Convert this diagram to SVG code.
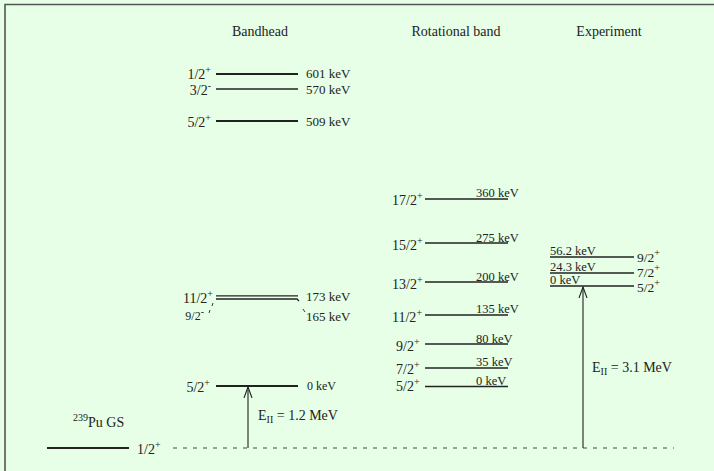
<svg xmlns="http://www.w3.org/2000/svg" width="714" height="471" viewBox="0 0 714 471">
<style>
text{font-family:"Liberation Serif","Times New Roman",serif;fill:#222;font-size:12.5px}
.t{font-size:14px}
.j{font-size:14px}
.jx{font-size:13.5px}
.e{font-size:12.5px}
.eb{font-size:13px}
.s{font-size:12px}
.sup{font-size:10px}
.lv{stroke:#222;stroke-width:1.8;fill:none}
.lt{stroke:#222;stroke-width:1.3;fill:none}
.ar{stroke:#222;stroke-width:1.1;fill:none}
</style>
<defs>
<marker id="ah" viewBox="0 0 12 10" refX="11" refY="5" markerWidth="12" markerHeight="10" markerUnits="userSpaceOnUse" orient="auto">
<path d="M0,1 L11,5 L0,9" fill="none" stroke="#222" stroke-width="1.1"/>
</marker>
</defs>
<rect x="0" y="0" width="714" height="471" fill="#e6ffe6"/>
<path d="M5,471 V4.5 H714" fill="none" stroke="#555" stroke-width="1.6"/>

<g id="titles">
<text class="t" x="260" y="36" text-anchor="middle">Bandhead</text>
<text class="t" x="456" y="36" text-anchor="middle">Rotational band</text>
<text class="t" x="609" y="36" text-anchor="middle">Experiment</text>
</g>

<g id="gs">
<line class="lv" x1="47" y1="448" x2="129" y2="448"/>
<text class="j" x="137" y="454">1/2<tspan class="sup" dy="-6">+</tspan></text>
<text class="j" x="73" y="427"><tspan class="sup" dy="-6">239</tspan><tspan dy="6">Pu GS</tspan></text>
</g>

<g id="bandhead">
<g id="bh601"><line class="lv" x1="216" y1="74" x2="298" y2="74"/>
<text class="j" x="211" y="79" text-anchor="end">1/2<tspan class="sup" dy="-6">+</tspan></text>
<text class="eb" x="306" y="78">601 keV</text></g>
<g id="bh570"><line class="lt" x1="216" y1="89" x2="298" y2="89"/>
<text class="j" x="211" y="95" text-anchor="end">3/2<tspan class="sup" dy="-6">-</tspan></text>
<text class="eb" x="306" y="94">570 keV</text></g>
<g id="bh509"><line class="lv" x1="216" y1="121" x2="298" y2="121"/>
<text class="j" x="211" y="127" text-anchor="end">5/2<tspan class="sup" dy="-6">+</tspan></text>
<text class="eb" x="306" y="126">509 keV</text></g>
<g id="bh173"><line class="lt" x1="216" y1="295.8" x2="298" y2="295.8"/>
<path class="lt" d="M216,299 H297 L299,301"/>
<path d="M213,303 L212,306 M210,310 L209,313" stroke="#222" stroke-width="0.9" fill="none"/>
<path d="M303,309 L305,312" stroke="#222" stroke-width="0.9" fill="none"/>
<text class="j" x="213" y="303" text-anchor="end">11/2<tspan class="sup" dy="-6">+</tspan></text>
<text class="eb" x="306" y="301">173 keV</text>
<text class="s" x="204" y="320" text-anchor="end">9/2<tspan class="sup" dy="-5">-</tspan></text>
<text class="eb" x="306" y="321">165 keV</text></g>
<g id="bh0"><line class="lv" x1="216" y1="386" x2="298" y2="386"/>
<text class="j" x="210" y="392" text-anchor="end">5/2<tspan class="sup" dy="-6">+</tspan></text>
<text class="s" x="307" y="390">0 keV</text></g>
</g>

<g id="rotational">
<g id="r17"><line class="lt" x1="425" y1="199" x2="508" y2="199"/>
<text class="j" x="392" y="205">17/2<tspan class="sup" dy="-6">+</tspan></text>
<text class="e" x="476" y="197">360 keV</text></g>
<g id="r15"><line class="lt" x1="425" y1="243" x2="508" y2="243"/>
<text class="j" x="392" y="250">15/2<tspan class="sup" dy="-6">+</tspan></text>
<text class="e" x="476" y="242">275 keV</text></g>
<g id="r13"><line class="lt" x1="425" y1="282" x2="508" y2="282"/>
<text class="j" x="392" y="289">13/2<tspan class="sup" dy="-6">+</tspan></text>
<text class="e" x="476" y="281">200 keV</text></g>
<g id="r11"><line class="lt" x1="425" y1="315" x2="508" y2="315"/>
<text class="j" x="392" y="322">11/2<tspan class="sup" dy="-6">+</tspan></text>
<text class="e" x="476" y="313">135 keV</text></g>
<g id="r9"><line class="lt" x1="425" y1="344" x2="508" y2="344"/>
<text class="j" x="396" y="351">9/2<tspan class="sup" dy="-6">+</tspan></text>
<text class="e" x="476" y="343">80 keV</text></g>
<g id="r7"><line class="lt" x1="425" y1="368" x2="508" y2="368"/>
<text class="j" x="396" y="374">7/2<tspan class="sup" dy="-6">+</tspan></text>
<text class="e" x="476" y="366">35 keV</text></g>
<g id="r5"><line class="lt" x1="425" y1="386.5" x2="508" y2="386.5"/>
<text class="j" x="396" y="391">5/2<tspan class="sup" dy="-6">+</tspan></text>
<text class="e" x="476" y="385">0 keV</text></g>
</g>

<g id="experiment">
<g id="e9"><line class="lt" x1="550" y1="257" x2="634" y2="257"/>
<text class="e" x="550" y="255">56.2 keV</text>
<text class="jx" x="637" y="262">9/2<tspan class="sup" dy="-6">+</tspan></text></g>
<g id="e7"><line class="lt" x1="550" y1="273" x2="634" y2="273"/>
<text class="e" x="550" y="271">24.3 keV</text>
<text class="jx" x="637" y="277">7/2<tspan class="sup" dy="-6">+</tspan></text></g>
<g id="e5"><line class="lt" x1="550" y1="286" x2="634" y2="286"/>
<text class="e" x="550" y="284">0 keV</text>
<text class="jx" x="637" y="292">5/2<tspan class="sup" dy="-6">+</tspan></text></g>
</g>

<g id="connectors">
<line x1="173" y1="448" x2="674" y2="448" stroke="#444" stroke-width="1" stroke-dasharray="4,6"/>
<line class="ar" x1="248" y1="448" x2="248" y2="387" marker-end="url(#ah)"/>
<line class="ar" x1="583" y1="448" x2="583" y2="287" marker-end="url(#ah)"/>
<text class="j" x="258" y="420">E<tspan class="sup" dy="3">II</tspan><tspan dy="-3"> = 1.2 MeV</tspan></text>
<text class="j" x="592" y="372">E<tspan class="sup" dy="3">II</tspan><tspan dy="-3"> = 3.1 MeV</tspan></text>
</g>
</svg>
